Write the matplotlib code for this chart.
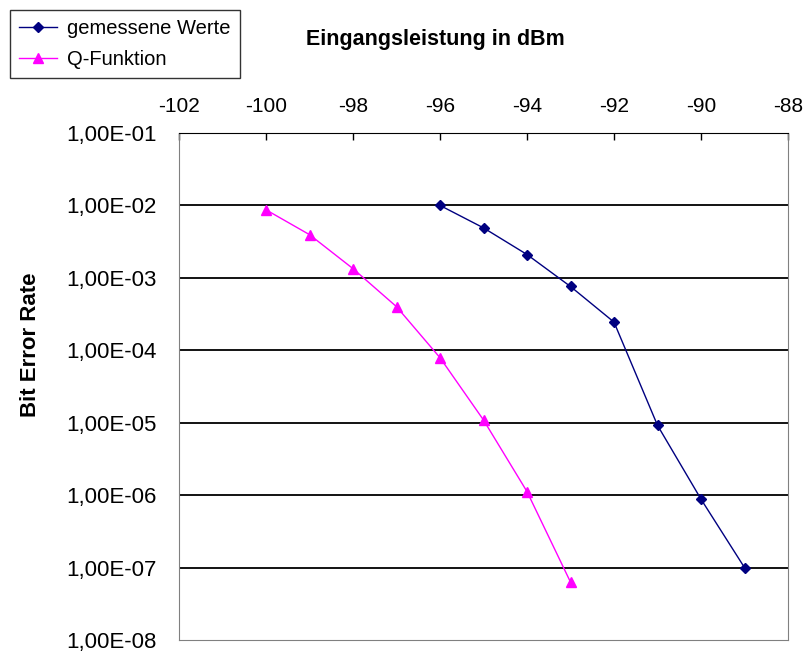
import matplotlib.pyplot as plt
from matplotlib.ticker import FixedLocator, FuncFormatter

plt.rcParams['font.family'] = ['Liberation Sans', 'DejaVu Sans']

# Eingangsleistung (dBm) und Bitfehlerrate
x_gemessen = [-96, -95, -94, -93, -92, -91, -90, -89]
ber_gemessen = [1.0e-2, 4.9e-3, 2.1e-3, 7.6e-4, 2.45e-4, 9.2e-6, 8.8e-7, 1.0e-7]

x_q = [-100, -99, -98, -97, -96, -95, -94, -93]
ber_q = [8.7e-3, 3.95e-3, 1.34e-3, 4.0e-4, 7.9e-5, 1.09e-5, 1.12e-6, 6.3e-8]

x_ticks = [-102, -100, -98, -96, -94, -92, -90, -88]
y_ticks = [1e-1, 1e-2, 1e-3, 1e-4, 1e-5, 1e-6, 1e-7, 1e-8]


def excel_label(v, pos):
    # 1,00E-03 style
    s = '%.2E' % v
    return s.replace('.', ',')


fig = plt.figure(figsize=(8.11, 6.55), dpi=100)
ax = fig.add_axes([179 / 811, 1 - 640 / 655, 609 / 811, 507 / 655])

ax.plot(x_gemessen, ber_gemessen, color='#000080', lw=1.0, marker='D',
        ms=5, label='gemessene Werte')
ax.plot(x_q, ber_q, color='#ff00ff', lw=1.0, marker='^', ms=7,
        label='Q-Funktion')

ax.set_yscale('log')
ax.set_xlim(-102, -88)
ax.set_ylim(1e-8, 1e-1)

ax.xaxis.tick_top()
ax.set_xticks(x_ticks)
ax.set_xticklabels([str(t) for t in x_ticks])
ax.tick_params(axis='x', direction='in', length=5, width=1, labelsize=15,
               pad=12, colors='black')

ax.yaxis.set_major_locator(FixedLocator(y_ticks))
ax.yaxis.set_minor_locator(FixedLocator([]))
ax.yaxis.set_major_formatter(FuncFormatter(excel_label))
ax.tick_params(axis='y', length=0, labelsize=16, pad=16)

for yv in y_ticks[1:-1]:
    ax.axhline(yv, color='black', lw=1.3, zorder=0)

for side in ['left', 'right', 'bottom']:
    ax.spines[side].set_color('#808080')
ax.spines['top'].set_color('black')

fig.text(435 / 811, 1 - 40 / 655, 'Eingangsleistung in dBm', ha='center',
         va='center', fontsize=15.5, fontweight='bold')
fig.text(30 / 811, 1 - 345 / 655, 'Bit Error Rate', ha='center',
         va='center', rotation=90, fontsize=16, fontweight='bold')

leg = fig.legend(loc='upper left', bbox_to_anchor=(10 / 811, 1 - 10 / 655),
                 fontsize=14.5, frameon=True, fancybox=False, handlelength=1.9,
                 borderpad=0.45, labelspacing=0.6, handletextpad=0.5,
                 borderaxespad=0)
leg.get_frame().set_edgecolor('black')
leg.get_frame().set_linewidth(1.0)

fig.savefig('out.png', dpi=100)
